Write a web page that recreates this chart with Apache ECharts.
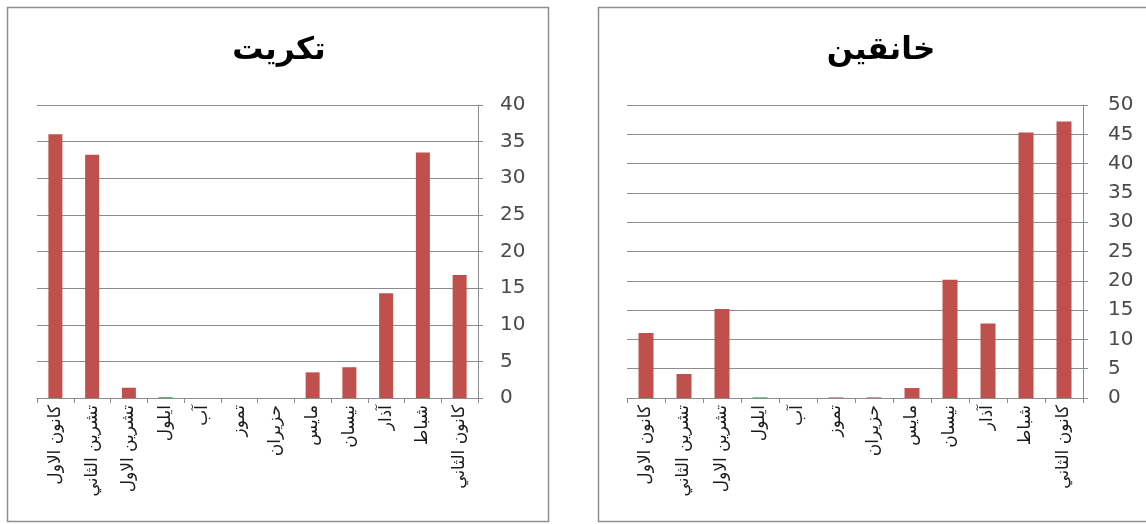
<!DOCTYPE html>
<html><head><meta charset="utf-8">
<script src="https://cdn.jsdelivr.net/npm/echarts@6/dist/echarts.min.js"></script>
<style>html,body{margin:0;padding:0;background:#fff}#c{width:1146px;height:524px}</style>
</head><body><div id="c"></div>
<script>
const months = ['كانون الثاني','شباط','آذار','نيسان','مايس','حزيران','تموز','آب','ايلول','تشرين الاول','تشرين الثاني','كانون الاول'];
const tikritTitle = 'تكريت';
const khanaqinTitle = 'خانقين';
const tikritValues = [16.8, 33.5, 14.3, 4.2, 3.5, 0, 0, 0, 0.1, 1.4, 33.2, 36.0];
const khanaqinValues = [47.2, 45.3, 12.7, 20.2, 1.7, 0.1, 0.1, 0, 0.1, 15.2, 4.1, 11.1];
const tikritTicks = {min: 0, max: 40, interval: 5};
const khanaqinTicks = {min: 0, max: 50, interval: 5};

const axisGray = '#8c8c8c';
const chart = echarts.init(document.getElementById('c'));
function xAx(i){
  return {type:'category', gridIndex:i, data:months, inverse:true,
    axisLine:{lineStyle:{color:axisGray,width:1}},
    axisTick:{show:true,length:5,lineStyle:{color:axisGray}},
    axisLabel:{rotate:90, interval:0, fontFamily:'DejaVu Sans', fontSize:17, color:'#1a1a1a', margin:7}};
}
function yAx(i,t,m){
  return {type:'value', gridIndex:i, position:'right', min:t.min, max:t.max, interval:t.interval,
    axisLine:{show:true,lineStyle:{color:axisGray}},
    axisTick:{show:true,length:5,lineStyle:{color:axisGray}},
    axisLabel:{fontFamily:'DejaVu Sans', fontSize:20, color:'#4a4a4a', margin:m, align:'left'},
    splitLine:{lineStyle:{color:'#8c8c8c',width:1}}};
}
chart.setOption({
  animation:false,
  title:[
    {text:tikritTitle, left:274, top:30, textAlign:'center', textStyle:{fontFamily:'DejaVu Sans', fontWeight:'bold', fontSize:31, color:'#000'}},
    {text:khanaqinTitle, left:876, top:30, textAlign:'center', textStyle:{fontFamily:'DejaVu Sans', fontWeight:'bold', fontSize:31, color:'#000'}}
  ],
  graphic:[
    {type:'rect', shape:{x:7.5,y:7.5,width:541,height:514}, style:{fill:null, stroke:'#8f8f8f', lineWidth:1.5}},
    {type:'rect', shape:{x:598.5,y:7.5,width:580,height:514}, style:{fill:null, stroke:'#8f8f8f', lineWidth:1.5}}
  ],
  grid:[
    {left:37, right:1146-478, top:105, bottom:524-398, containLabel:false},
    {left:627, right:1146-1083, top:105, bottom:524-398, containLabel:false}
  ],
  xAxis:[xAx(0), xAx(1)],
  yAxis:[yAx(0,tikritTicks,22), yAx(1,khanaqinTicks,25)],
  series:[
    {type:'bar', xAxisIndex:0, yAxisIndex:0, data:tikritValues, barWidth:14, itemStyle:{color:'#c0504d'}},
    {type:'bar', xAxisIndex:1, yAxisIndex:1, data:khanaqinValues, barWidth:15, itemStyle:{color:'#c0504d'}}
  ]
});
</script></body></html>
